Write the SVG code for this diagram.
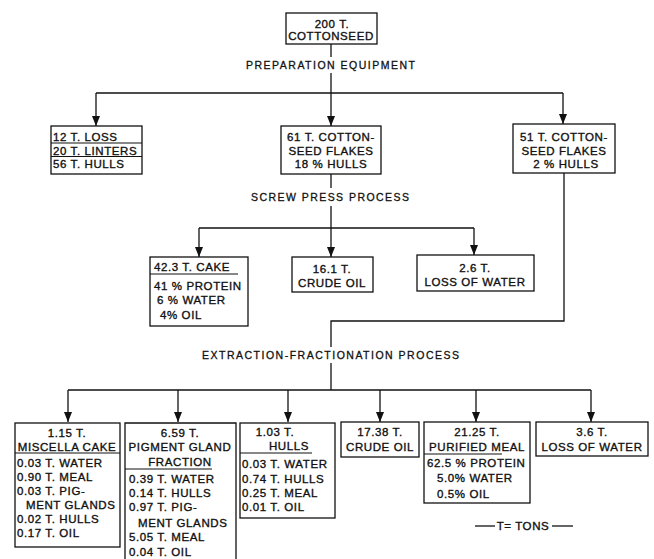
<svg xmlns="http://www.w3.org/2000/svg" width="654" height="559" viewBox="0 0 654 559">
<style>
  .box{fill:none;stroke:#111;stroke-width:1.3}
  .div{stroke:#111;stroke-width:1.1}
  .t{font-family:"Liberation Sans",Arial,sans-serif;font-size:11.5px;letter-spacing:0.6px;fill:#111;stroke:#111;stroke-width:0.35px}
  .c{text-anchor:middle}
  .lbl{font-family:"Liberation Sans",Arial,sans-serif;font-size:10.5px;fill:#111;stroke:#111;stroke-width:0.3px}
  .ln{fill:none;stroke:#111;stroke-width:1.3}
</style>
<defs>
  <marker id="ah" markerUnits="userSpaceOnUse" markerWidth="10" markerHeight="8" refX="10" refY="4" orient="auto">
    <path d="M0,0 L10,4 L0,8 z" fill="#111"/>
  </marker>
</defs>
<rect width="654" height="559" fill="#fff"/>

<g id="connectors">
  <path class="ln" d="M331,44 V57"/>
  <path class="ln" d="M331,73 V93"/>
  <path class="ln" d="M96,93 H563"/>
  <path class="ln" d="M96,93 V126" marker-end="url(#ah)"/>
  <path class="ln" d="M331,93 V126" marker-end="url(#ah)"/>
  <path class="ln" d="M563,93 V124" marker-end="url(#ah)"/>
  <path class="ln" d="M331,174 V188"/>
  <path class="ln" d="M331,206 V228"/>
  <path class="ln" d="M199,228 H474"/>
  <path class="ln" d="M199,228 V257" marker-end="url(#ah)"/>
  <path class="ln" d="M331,228 V257" marker-end="url(#ah)"/>
  <path class="ln" d="M474,228 V255" marker-end="url(#ah)"/>
  <path class="ln" d="M564,173 V321 H331 V347"/>
  <path class="ln" d="M331,363 V390"/>
  <path class="ln" d="M68,390 H591"/>
  <path class="ln" d="M68,390 V422" marker-end="url(#ah)"/>
  <path class="ln" d="M178,390 V422" marker-end="url(#ah)"/>
  <path class="ln" d="M288,390 V422" marker-end="url(#ah)"/>
  <path class="ln" d="M380,390 V422" marker-end="url(#ah)"/>
  <path class="ln" d="M476,390 V422" marker-end="url(#ah)"/>
  <path class="ln" d="M591,390 V422" marker-end="url(#ah)"/>
</g>

<g id="labels">
  <text class="lbl" x="246" y="69" textLength="169" lengthAdjust="spacing">PREPARATION  EQUIPMENT</text>
  <text class="lbl" x="251" y="201" textLength="158" lengthAdjust="spacing">SCREW  PRESS  PROCESS</text>
  <text class="lbl" x="202" y="359" textLength="257" lengthAdjust="spacing">EXTRACTION-FRACTIONATION  PROCESS</text>
</g>

<g id="n-cottonseed">
  <rect class="box" x="286" y="13" width="91" height="31"/>
  <text class="t c" x="332" y="28">200 T.</text>
  <text class="t c" x="331" y="40">COTTONSEED</text>
</g>

<g id="n-loss">
  <rect class="box" x="51" y="126" width="91" height="48"/>
  <text class="t" x="53" y="141">12 T. LOSS</text>
  <line class="div" x1="51" y1="143" x2="142" y2="143"/>
  <text class="t" x="53" y="154.5">20 T. LINTERS</text>
  <line class="div" x1="51" y1="156.5" x2="142" y2="156.5"/>
  <text class="t" x="53" y="168">56 T. HULLS</text>
</g>

<g id="n-flakes61">
  <rect class="box" x="281" y="126" width="100" height="48"/>
  <text class="t c" x="331" y="141">61 T. COTTON-</text>
  <text class="t c" x="331" y="154.5">SEED FLAKES</text>
  <text class="t c" x="331" y="168">18 % HULLS</text>
</g>

<g id="n-flakes51">
  <rect class="box" x="513" y="124" width="102" height="49"/>
  <text class="t c" x="564" y="141">51 T. COTTON-</text>
  <text class="t c" x="564" y="154.5">SEED FLAKES</text>
  <text class="t c" x="566" y="168">2 % HULLS</text>
</g>

<g id="n-cake">
  <rect class="box" x="150" y="257" width="98" height="69"/>
  <text class="t" x="154" y="271">42.3 T. CAKE</text>
  <line class="div" x1="150" y1="274" x2="238" y2="274"/>
  <text class="t" x="154" y="290">41 % PROTEIN</text>
  <text class="t" x="157" y="304">6 % WATER</text>
  <text class="t" x="160" y="319">4% OIL</text>
</g>

<g id="n-crudeoil16">
  <rect class="box" x="292" y="257" width="81" height="35"/>
  <text class="t c" x="332" y="273">16.1 T.</text>
  <text class="t c" x="332" y="287">CRUDE OIL</text>
</g>

<g id="n-water26">
  <rect class="box" x="417" y="255" width="117" height="36"/>
  <text class="t c" x="475" y="272">2.6 T.</text>
  <text class="t c" x="475" y="285.5">LOSS OF WATER</text>
</g>

<g id="n-miscella">
  <rect class="box" x="15" y="423" width="105" height="124"/>
  <text class="t c" x="67" y="437">1.15 T.</text>
  <text class="t c" x="67" y="451">MISCELLA CAKE</text>
  <line class="div" x1="15" y1="453" x2="120" y2="453"/>
  <text class="t" x="17" y="467">0.03 T. WATER</text>
  <text class="t" x="17" y="481">0.90 T. MEAL</text>
  <text class="t" x="17" y="495">0.03 T. PIG-</text>
  <text class="t" x="26" y="509">MENT GLANDS</text>
  <text class="t" x="17" y="523">0.02 T. HULLS</text>
  <text class="t" x="17" y="537">0.17 T. OIL</text>
</g>

<g id="n-pigment">
  <path class="box" d="M125,560 V423 H236 V560"/>
  <text class="t c" x="180" y="437">6.59 T.</text>
  <text class="t c" x="180" y="451">PIGMENT GLAND</text>
  <text class="t c" x="180" y="466">FRACTION</text>
  <line class="div" x1="125" y1="469" x2="212" y2="469"/>
  <text class="t" x="129" y="483">0.39 T. WATER</text>
  <text class="t" x="129" y="497">0.14 T. HULLS</text>
  <text class="t" x="129" y="511">0.97 T. PIG-</text>
  <text class="t" x="138" y="527">MENT GLANDS</text>
  <text class="t" x="129" y="541">5.05 T. MEAL</text>
  <text class="t" x="129" y="556">0.04 T. OIL</text>
</g>

<g id="n-hulls">
  <rect class="box" x="240" y="423" width="95" height="95"/>
  <text class="t c" x="275" y="436">1.03 T.</text>
  <text class="t c" x="289" y="450">HULLS</text>
  <line class="div" x1="240" y1="453" x2="312" y2="453"/>
  <text class="t" x="242" y="468">0.03 T. WATER</text>
  <text class="t" x="242" y="483">0.74 T. HULLS</text>
  <text class="t" x="242" y="497">0.25 T. MEAL</text>
  <text class="t" x="242" y="511">0.01 T. OIL</text>
</g>

<g id="n-crudeoil17">
  <rect class="box" x="341" y="422" width="78" height="35"/>
  <text class="t c" x="380" y="436">17.38 T.</text>
  <text class="t c" x="380" y="451">CRUDE OIL</text>
</g>

<g id="n-meal">
  <rect class="box" x="424" y="422" width="106" height="81"/>
  <text class="t c" x="477" y="436">21.25 T.</text>
  <text class="t c" x="477" y="451">PURIFIED MEAL</text>
  <line class="div" x1="424" y1="454" x2="502" y2="454"/>
  <text class="t" x="427" y="467">62.5 % PROTEIN</text>
  <text class="t" x="437" y="482">5.0% WATER</text>
  <text class="t" x="437" y="498">0.5% OIL</text>
</g>

<g id="n-water36">
  <rect class="box" x="536" y="422" width="112" height="34"/>
  <text class="t c" x="592" y="436">3.6 T.</text>
  <text class="t c" x="592" y="451">LOSS OF WATER</text>
</g>

<g id="legend">
  <line class="ln" x1="475" y1="526" x2="495" y2="526"/>
  <text class="t c" x="523" y="530">T= TONS</text>
  <line class="ln" x1="552" y1="526" x2="573" y2="526"/>
</g>
</svg>
